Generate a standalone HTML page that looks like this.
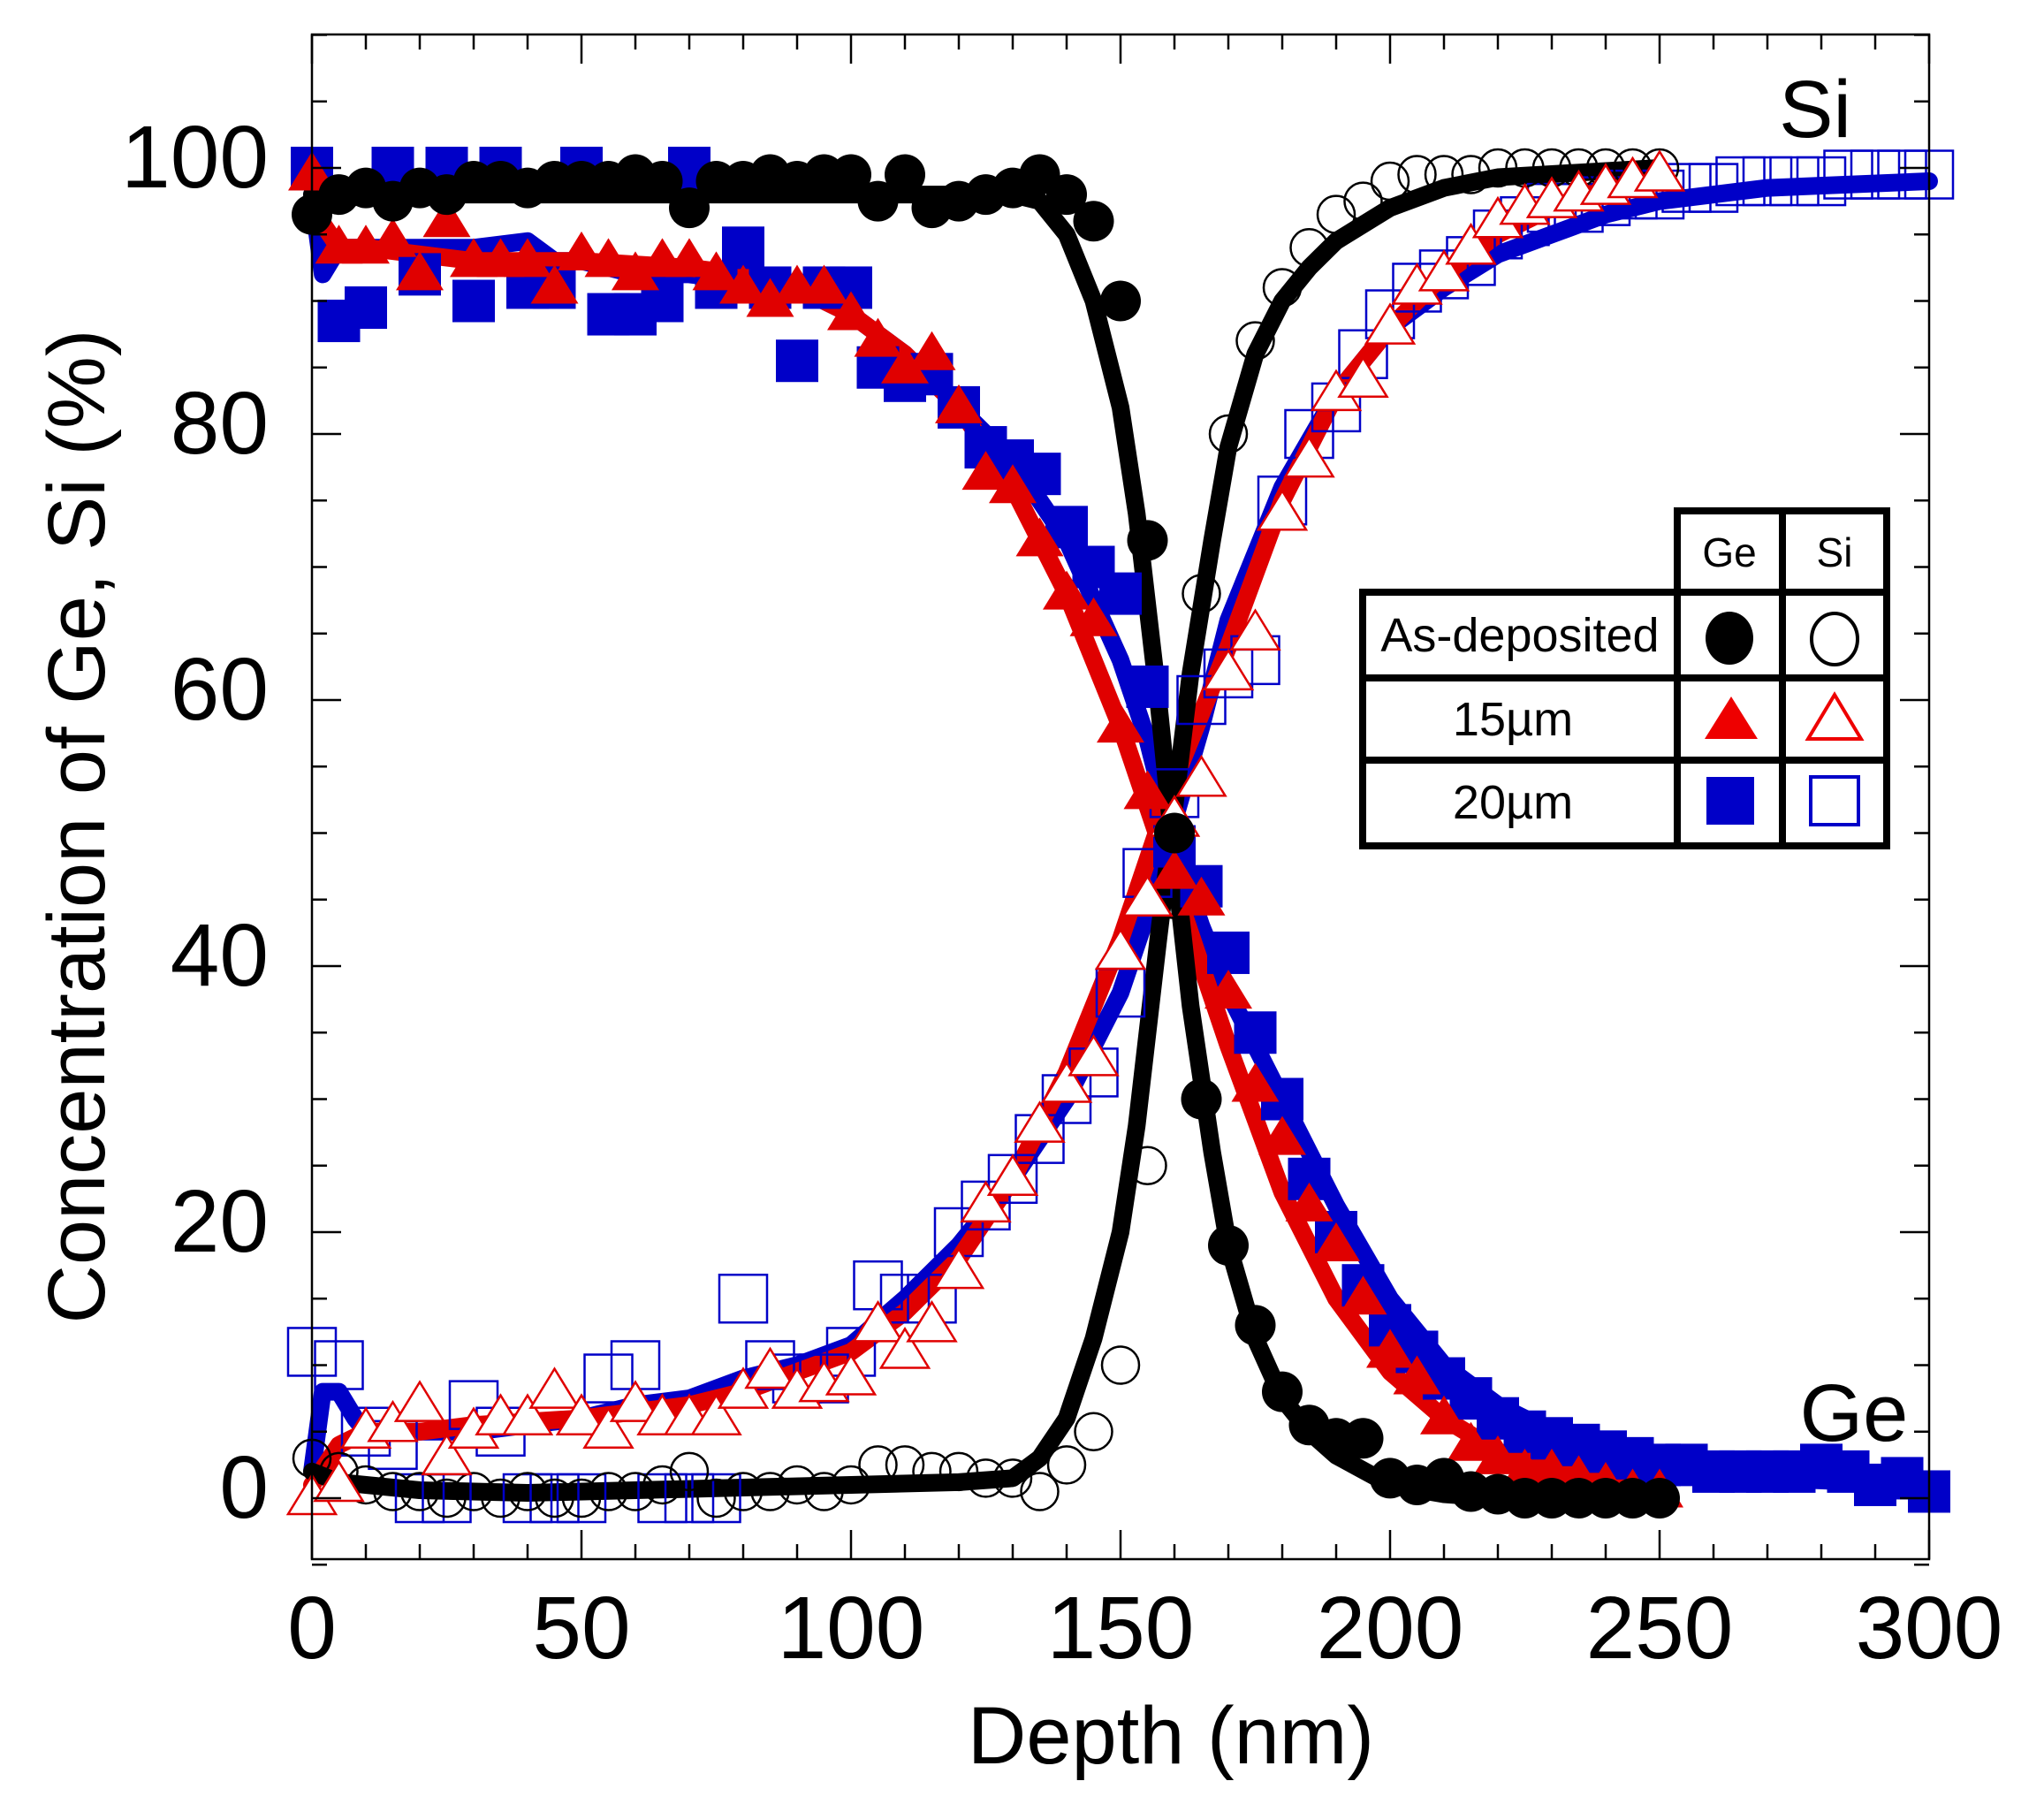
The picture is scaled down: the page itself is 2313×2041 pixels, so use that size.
<!DOCTYPE html>
<html><head><meta charset="utf-8"><style>
html,body{margin:0;padding:0;background:#fff}
svg{display:block}
text{font-family:"Liberation Sans",sans-serif}
</style></head><body>
<svg id="chart" width="2313" height="2041" viewBox="0 0 2313 2041" xmlns="http://www.w3.org/2000/svg">
<g id="lines"></g>
<g id="marks"></g>
<g id="axes"></g>
<text x="2054" y="155" font-size="92" text-anchor="middle">Si</text>
<text x="2098" y="1630" font-size="92" text-anchor="middle">Ge</text>
<text x="1325" y="1995" font-size="92" text-anchor="middle">Depth (nm)</text>
<text transform="translate(118,935) rotate(-90)" font-size="92" text-anchor="middle">Concentration of Ge, Si (%)</text>
<g>
<rect x="1898" y="578" width="237" height="379" fill="#fff" stroke="#000" stroke-width="8"/>
<rect x="1542" y="670" width="593" height="287" fill="#fff" stroke="#000" stroke-width="8"/>
<line x1="1898" y1="578" x2="1898" y2="957" stroke="#000" stroke-width="8"/>
<line x1="2017" y1="578" x2="2017" y2="957" stroke="#000" stroke-width="8"/>
<line x1="1542" y1="767" x2="2135" y2="767" stroke="#000" stroke-width="8"/>
<line x1="1542" y1="860" x2="2135" y2="860" stroke="#000" stroke-width="8"/>
<text x="1957" y="641" font-size="46" text-anchor="middle">Ge</text>
<text x="2076" y="641" font-size="46" text-anchor="middle">Si</text>
<text x="1720" y="737" font-size="54" text-anchor="middle">As-deposited</text>
<text x="1712" y="832" font-size="54" text-anchor="middle">15µm</text>
<text x="1712" y="926" font-size="54" text-anchor="middle">20µm</text>
<ellipse cx="1957" cy="722" rx="27" ry="30" fill="#000"/>
<ellipse cx="2076" cy="723" rx="26" ry="29" fill="none" stroke="#000" stroke-width="4"/>
<polygon points="1959,788 1989,836 1929,836" fill="#ee0000"/>
<polygon points="2076,786 2106,836 2046,836" fill="none" stroke="#ee0000" stroke-width="4"/>
<rect x="1931" y="879" width="54" height="54" fill="#0000c8"/>
<rect x="2049" y="879" width="54" height="54" fill="none" stroke="#0000c8" stroke-width="4"/>
</g>
</svg>
<script>
// ---- data ----
const depthA = [0,5,10,15,20,25,30,35,40,45,50,55,60,65,70,75,80,85,90,95,100,105,110,115,120,125,130,135,140,145,150,155,160,165,170,175,180,185,190,195,200,205,210,215,220,225,230,235,240,245,250];
const depthB = [0,5,10,15,20,25,30,35,40,45,50,55,60,65,70,75,80,85,90,95,100,105,110,115,120,125,130,135,140,145,150,155,160,165,170,175,180,185,190,195,200,205,210,215,220,225,230,235,240,245,250,255,260,265,270,275,280,285,290,295,300];
const geAsDep = [96.5,98,98.5,97.5,98.5,98,99,99,98.5,99,99,99,99.5,99,97,99,99,99.5,99,99.5,99.5,97.5,99.5,97,97.5,98,98.5,99.5,98,96,90,72,50,30,19,13,8,5.5,4.5,4.5,1.5,1,1.5,0.5,0.3,0,0,0,0,0,0];
const siAsDep = [3,2,1,0.5,0.5,0,0.5,0,0.5,0,0,0.5,0.5,1,2,0,0.5,0.5,1,0.5,1,2.5,2.5,2,2,1.5,1.5,0.5,2.5,5,10,25,45,68,80,87,91,94,96.5,97.5,99,99.5,99.5,99.5,100,100,100,100,100,100,100];
const ge15 = [99.5,94,94,94.5,92,96,93,93,93,91,93.5,93,92,93,93,92,91,90,91,91,89,87,85,86,82,77,76,72,68,66,58,53,47,45,38,31,27,22,19,15,11,9,6,4,3,2,2,1.5,1,0.5,0.5];
const si15 = [0,1,5,5.5,7,3,5,6,6,8,6,5,7,6,6,6,8,9.5,8,8.5,9,13,11,13,17,22,24,28,31,33,41,45,51,54,62,65,74,78,83,84,88,91,92,94,96,97,97.5,98,98.5,99,99.5];
const ge20 = [100,88.5,89.5,100,92,100,90,100,91,91,100,89,89,90,100,91,94,91,85.5,91,91,85,84,84.5,82,79,78,77,73,70,68,61,49,46,41,35,30,24,20,16,13,11,9,7.5,6,5,4.5,4,3.5,3,2.5,2.5,2,2,2,2,2.5,2,1,1.5,0.5];
const si20 = [11,10,5,4,0,0,7,5,0,0,0,9,10,0,0,0,15,10,9,9,11,16,15,15,20,22,24,27,30,32,38,47,53,60,62,63,75,80,82,86,89,91,92,93,95,96,97,97,97.5,98,98,98.5,98.5,99,99,99,99,99.5,99.5,99.5,99.5];
// fit lines
const lineDepthA = [0,5,10,20,40,60,80,100,120,130,135,140,145,150,153,157,160,163,167,170,175,180,185,190,200,210,220,250];
const lineGeA = [98,97.5,98,98,98,98,98,98,98,98,97.5,95,90,82,74,60,48,37,26,19,12,7.5,5,3.2,1,0.3,0,0];
const lineSiA = [2,1.2,1,0.6,0.4,0.6,0.8,1,1.2,1.5,3,6,12,20,28,42,52,62,72,79,86,90,92.5,94.5,97,98.5,99.3,100];
const lineDepth15 = [0,5,10,20,30,50,70,80,90,100,110,120,130,140,150,155,160,170,180,190,200,210,220,230,240,250];
const lineGe15 = [97,94,94,93.5,93,93,92.5,92,91,89,86,82,76,68,58,52,46,34,23,15,9.5,6,3.5,2.2,1.3,1];
const lineSi15 = [1,4,5,5,5.5,6,7,8,9.5,11,14,18,24,32,42,48,54,64,75,83,88,92,95,97,98.5,99.5];
const lineDepth20 = [0,2,5,10,20,30,40,45,50,60,70,80,90,100,110,120,130,140,150,155,160,165,170,180,190,200,210,220,230,240,250,270,300];
const lineGe20 = [98,92,94,94,94,94,94.5,93,93,92,92,91.5,91,89,86,82,78,72,63,57,49,43,38,30,22,15,10,7,5,3.5,2.5,1.5,1];
const lineSi20Depth = [0,2,5,8,10,20,30,40,50,60,70,80,90,100,110,120,130,140,150,155,160,165,170,180,190,200,210,220,230,240,250,270,300];
const lineSi20 = [2,8,8,6,5,5,5,5.5,6,7,7.5,9,10,11.5,15,19,24,30,38,44,51,58,66,76,83,88,91,93.5,95,96.5,97.5,98.5,99];
const xTickLabels = ["0","50","100","150","200","250","300"];
const yTickLabels = ["0","20","40","60","80","100"];

// ---- axes functions ----
const X0=353, X1=2183, Y0=1695, Y100=190, TOP=39, BOT=1764;
const sx = d => X0 + d*(X1-X0)/300;
const sy = v => Y0 + v*(Y100-Y0)/100;
const NS="http://www.w3.org/2000/svg";
function mk(tag, attrs, parent){const e=document.createElementNS(NS,tag);for(const k in attrs)e.setAttribute(k,attrs[k]);parent.appendChild(e);return e;}
const linesG=document.getElementById('lines'), marksG=document.getElementById('marks'), axesG=document.getElementById('axes');

function drawLine(ds, vs, color, name){
  const p = ds.map((d,i)=>(i?'L':'M')+sx(d).toFixed(1)+','+sy(vs[i]).toFixed(1)).join(' ');
  const el = mk('path',{d:p,fill:'none',stroke:color,'stroke-width':20,'stroke-linejoin':'round','stroke-linecap':'round'},linesG);
  
  
}
function drawMarks(ds, vs, type, color, name){
  const g = mk('g',{},marksG);
  
  
  ds.forEach((d,i)=>{
    const x=sx(d), y=sy(vs[i]); let el;
    if(type==='fc') el=mk('circle',{cx:x,cy:y,r:23,fill:'#000'},g);
    else if(type==='oc') el=mk('circle',{cx:x,cy:y,r:21,fill:'none',stroke:'#000','stroke-width':2.5},g);
    else if(type==='ft') el=mk('polygon',{points:`${x},${y-26} ${x+27},${y+18} ${x-27},${y+18}`,fill:color},g);
    else if(type==='ot') el=mk('polygon',{points:`${x},${y-26} ${x+27},${y+18} ${x-27},${y+18}`,fill:'#fff',stroke:color,'stroke-width':2.5},g);
    else if(type==='fs') el=mk('rect',{x:x-24,y:y-24,width:48,height:48,fill:color},g);
    else el=mk('rect',{x:x-27,y:y-27,width:54,height:54,fill:'none',stroke:color,'stroke-width':2.5},g);
    
    
  });
}
const RED='#e00000', BLUE='#0000c8';
drawMarks(depthB, si20, 'os', BLUE, 'si-20um-markers');
drawMarks(depthA, siAsDep, 'oc', '#000', 'si-as-deposited-markers');
drawLine(lineDepth20, lineGe20, BLUE, 'ge-20um-line');
drawLine(lineSi20Depth, lineSi20, BLUE, 'si-20um-line');
drawMarks(depthB, ge20, 'fs', BLUE, 'ge-20um-markers');
drawLine(lineDepth15, lineGe15, RED, 'ge-15um-line');
drawLine(lineDepth15, lineSi15, RED, 'si-15um-line');
drawMarks(depthA, ge15, 'ft', RED, 'ge-15um-markers');
drawMarks(depthA, si15, 'ot', RED, 'si-15um-markers');
drawLine(lineDepthA, lineGeA, '#000', 'ge-as-deposited-line');
drawLine(lineDepthA, lineSiA, '#000', 'si-as-deposited-line');
drawMarks(depthA, geAsDep, 'fc', '#000', 'ge-as-deposited-markers');

// axes frame
const fr=mk('rect',{x:X0,y:TOP,width:X1-X0,height:BOT-TOP,fill:'none',stroke:'#000','stroke-width':2.5},axesG);


for(let d=0; d<=300; d+=10){
  const L = d%50===0?33:17, x=sx(d);
  mk('line',{x1:x,y1:BOT,x2:x,y2:BOT-L,stroke:'#000','stroke-width':2.5},axesG);
  mk('line',{x1:x,y1:TOP,x2:x,y2:TOP+L,stroke:'#000','stroke-width':2.5},axesG);
}
for(let v=-5; v<=110; v+=5){
  const L = v%20===0?33:17, y=sy(v);
  mk('line',{x1:X0,y1:y,x2:X0+L,y2:y,stroke:'#000','stroke-width':2.5},axesG);
  mk('line',{x1:X1,y1:y,x2:X1-L,y2:y,stroke:'#000','stroke-width':2.5},axesG);
}
xTickLabels.forEach((t,i)=>{
  const el=mk('text',{x:sx(Number(t)),y:1876,'font-size':100,'text-anchor':'middle'},axesG);
  el.textContent=t;
  
  
});
yTickLabels.forEach((t,i)=>{
  const el=mk('text',{x:304,y:sy(Number(t))+22,'font-size':100,'text-anchor':'end'},axesG);
  el.textContent=t;
  
  
});
</script>
</body></html>
